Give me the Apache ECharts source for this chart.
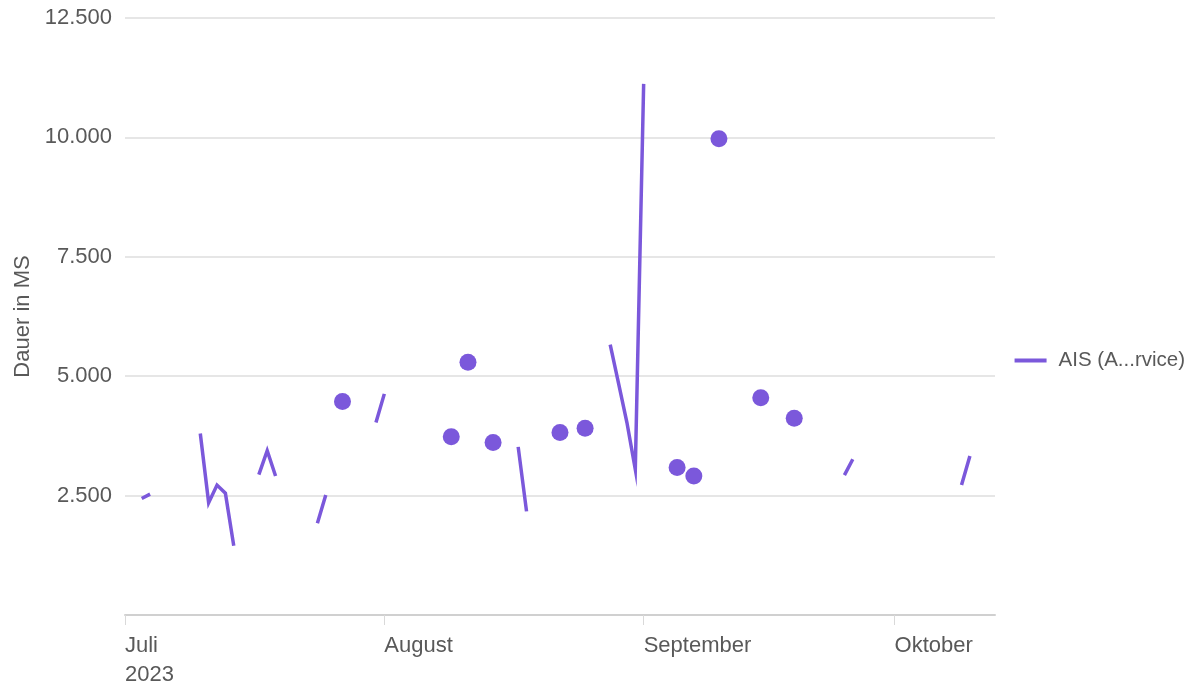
<!DOCTYPE html>
<html>
<head>
<meta charset="utf-8">
<script src="https://cdn.jsdelivr.net/npm/echarts@6/dist/echarts.min.js"></script>
<style>
  html, body { margin: 0; padding: 0; background: #ffffff; }
  #main { width: 1193px; height: 685px; }
</style>
</head>
<body>
<div id="main"></div>
<script>
// Tageswerte, null = Luecke in der Linie
var days = [
    '2023-07-03', '2023-07-04', '2023-07-05',
    '2023-07-10', '2023-07-11', '2023-07-12', '2023-07-13', '2023-07-14', '2023-07-15',
    '2023-07-17', '2023-07-18', '2023-07-19', '2023-07-20',
    '2023-07-24', '2023-07-25', '2023-07-26',
    '2023-07-27', '2023-07-28',
    '2023-07-31', '2023-08-01', '2023-08-02',
    '2023-08-09', '2023-08-10',
    '2023-08-11', '2023-08-12',
    '2023-08-14', '2023-08-15',
    '2023-08-17', '2023-08-18', '2023-08-19',
    '2023-08-22', '2023-08-23',
    '2023-08-25', '2023-08-26',
    '2023-08-28', '2023-08-29', '2023-08-30', '2023-08-31', '2023-09-01', '2023-09-02',
    '2023-09-05', '2023-09-06',
    '2023-09-07', '2023-09-08',
    '2023-09-10', '2023-09-11',
    '2023-09-15', '2023-09-16',
    '2023-09-19', '2023-09-20',
    '2023-09-25', '2023-09-26', '2023-09-27',
    '2023-10-09', '2023-10-10'
];
var durations = [
    2440, 2530, null,
    3800, 2350, 2720, 2550, 1450, null,
    2940, 3440, 2910, null,
    1920, 2510, null,
    4470, null,
    4030, 4630, null,
    3730, null,
    5290, null,
    3610, null,
    3520, 2170, null,
    3820, null,
    3910, null,
    5660, 4850, 4030, 3050, 11120, null,
    3090, null,
    2910, null,
    9970, null,
    4550, null,
    4120, null,
    2930, 3260, null,
    2720, 3330
];
var monthTicks = ['2023-07-01', '2023-08-01', '2023-09-01', '2023-10-01'];
var monthNames = ['Januar', 'Februar', 'März', 'April', 'Mai', 'Juni', 'Juli',
    'August', 'September', 'Oktober', 'November', 'Dezember'];
var seriesName = 'AIS (A...rvice)';

var lineColor = '#7B58DB';
var textColor = '#595959';

function toTime(s) {
    var p = s.split('-');
    return new Date(+p[0], +p[1] - 1, +p[2]).getTime();
}

// einzelne Punkte (ohne Nachbarn) bekommen einen Kreis
var seriesData = [];
for (var i = 0; i < days.length; i++) {
    var v = durations[i];
    var prev = i > 0 ? durations[i - 1] : null;
    var next = i < days.length - 1 ? durations[i + 1] : null;
    var item = { value: [toTime(days[i]), v == null ? '-' : v] };
    if (v != null && prev == null && next == null) {
        item.symbol = 'circle';
        item.symbolSize = 17;
    }
    seriesData.push(item);
}

var tickValues = monthTicks.map(toTime);

function formatDe(val) {
    return String(val).replace(/\B(?=(\d{3})+(?!\d))/g, '.');
}

var chart = echarts.init(document.getElementById('main'), null, { renderer: 'canvas' });

var option = {
    backgroundColor: '#ffffff',
    animation: false,
    textStyle: { fontFamily: '"Liberation Sans", Arial, sans-serif' },
    grid: {
        left: 125,
        right: 198,
        top: 18,
        bottom: 70,
        outerBoundsMode: 'none'
    },
    legend: {
        orient: 'vertical',
        right: 3,
        top: 345,
        itemWidth: 32,
        itemHeight: 14,
        icon: 'path://M0,5 L32,5 L32,9 L0,9 Z',
        textStyle: { color: textColor, fontSize: 20.5, padding: [0, 0, 0, 7] },
        data: [seriesName]
    },
    xAxis: {
        type: 'value',
        min: toTime('2023-07-01'),
        max: toTime('2023-10-13'),
        splitLine: { show: false },
        axisLine: { lineStyle: { color: '#d0d0d0', width: 2 } },
        axisTick: {
            show: true,
            length: 10,
            lineStyle: { color: '#d9d9d9' },
            customValues: tickValues
        },
        axisLabel: {
            color: textColor,
            fontSize: 22,
            align: 'left',
            margin: 16,
            lineHeight: 29,
            customValues: tickValues,
            formatter: function (val) {
                var d = new Date(val);
                var name = monthNames[d.getMonth()];
                if (d.getMonth() === 6) {
                    return name + '\n' + d.getFullYear();
                }
                return name;
            }
        }
    },
    yAxis: {
        type: 'value',
        min: 0,
        max: 12500,
        interval: 2500,
        name: 'Dauer in MS',
        nameLocation: 'middle',
        nameGap: 90,
        nameTextStyle: { color: textColor, fontSize: 22 },
        axisLine: { show: false },
        axisTick: { show: false },
        splitLine: { lineStyle: { color: '#e6e6e6', width: 2 } },
        axisLabel: {
            color: textColor,
            fontSize: 22,
            margin: 13,
            formatter: function (val) {
                if (val === 0) return '';
                return formatDe(val);
            }
        }
    },
    series: [
        {
            name: seriesName,
            type: 'line',
            data: seriesData,
            connectNulls: false,
            showSymbol: true,
            symbol: 'none',
            lineStyle: { color: lineColor, width: 3.5, join: 'miter', miterLimit: 20 },
            itemStyle: { color: lineColor },
            emphasis: { disabled: true }
        }
    ]
};

chart.setOption(option);
</script>
</body>
</html>
